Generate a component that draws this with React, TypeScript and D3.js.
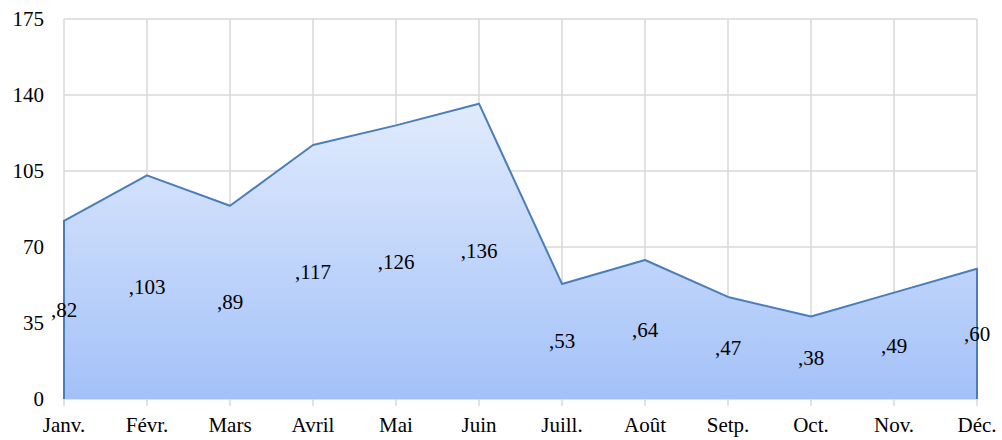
import React from 'react';
import * as d3 from 'd3';

const months = ['Janv.', 'Févr.', 'Mars', 'Avril', 'Mai', 'Juin', 'Juill.', 'Août', 'Setp.', 'Oct.', 'Nov.', 'Déc.'];
const values = [82, 103, 89, 117, 126, 136, 53, 64, 47, 38, 49, 60];
const yTicks = [0, 35, 70, 105, 140, 175];

const W = 1002;
const H = 440;
const margin = { left: 64, right: 25, top: 19, bottom: 41 };

const App = () => {
    const x = d3.scalePoint<string>()
        .domain(months)
        .range([margin.left, W - margin.right]);
    const y = d3.scaleLinear()
        .domain([0, 175])
        .range([H - margin.bottom, margin.top]);

    const area = d3.area<number>()
        .x((_, i) => x(months[i])!)
        .y0(y(0))
        .y1(d => y(d));

    const line = d3.line<number>()
        .x((_, i) => x(months[i])!)
        .y(d => y(d));

    // outline: left edge up, the values, right edge down
    const outline = 'M' + x(months[0]) + ',' + y(0) + 'L' + line(values)!.slice(1) + 'L' + x(months[11]) + ',' + y(0);

    const font = 'Liberation Serif, serif';
    const fs = 21;

    return (
        <svg width={W} height={H} style={{ position: 'absolute', left: 0, top: 0, display: 'block' }}>
            <defs>
                <linearGradient id="fillGrad" x1="0" y1="0" x2="0" y2="1">
                    <stop offset="0%" stopColor="#e1ebfd" />
                    <stop offset="100%" stopColor="#a3c1f8" />
                </linearGradient>
            </defs>
            <rect width={W} height={H} fill="#fff" />
            {/* gridlines */}
            {yTicks.map(t => (
                <line key={'h' + t} x1={margin.left} x2={W - margin.right} y1={y(t)} y2={y(t)}
                    stroke="#d9d9d9" strokeWidth={1.5} />
            ))}
            {months.map(m => (
                <line key={'v' + m} x1={x(m)} x2={x(m)} y1={margin.top} y2={y(0) + 7}
                    stroke="#d9d9d9" strokeWidth={1.5} />
            ))}
            {/* area */}
            <path d={area(values)!} fill="url(#fillGrad)" />
            <path d={outline} fill="none" stroke="#4a7ebb" strokeWidth={2} strokeLinejoin="round" />
            {/* data labels */}
            {values.map((v, i) => (
                <text key={'l' + i} x={x(months[i])} y={y(v / 2)} textAnchor="middle" dominantBaseline="central"
                    fontFamily={font} fontSize={fs} fill="#000">
                    {',' + v}
                </text>
            ))}
            {/* y axis labels */}
            {yTicks.map(t => (
                <text key={'y' + t} x={44} y={y(t)} textAnchor="end" dominantBaseline="central"
                    fontFamily={font} fontSize={fs} fill="#000">
                    {t}
                </text>
            ))}
            {/* x axis labels */}
            {months.map(m => (
                <text key={'x' + m} x={x(m)} y={425} textAnchor="middle" dominantBaseline="central"
                    fontFamily={font} fontSize={fs} fill="#000">
                    {m}
                </text>
            ))}
        </svg>
    );
};

export default App;
